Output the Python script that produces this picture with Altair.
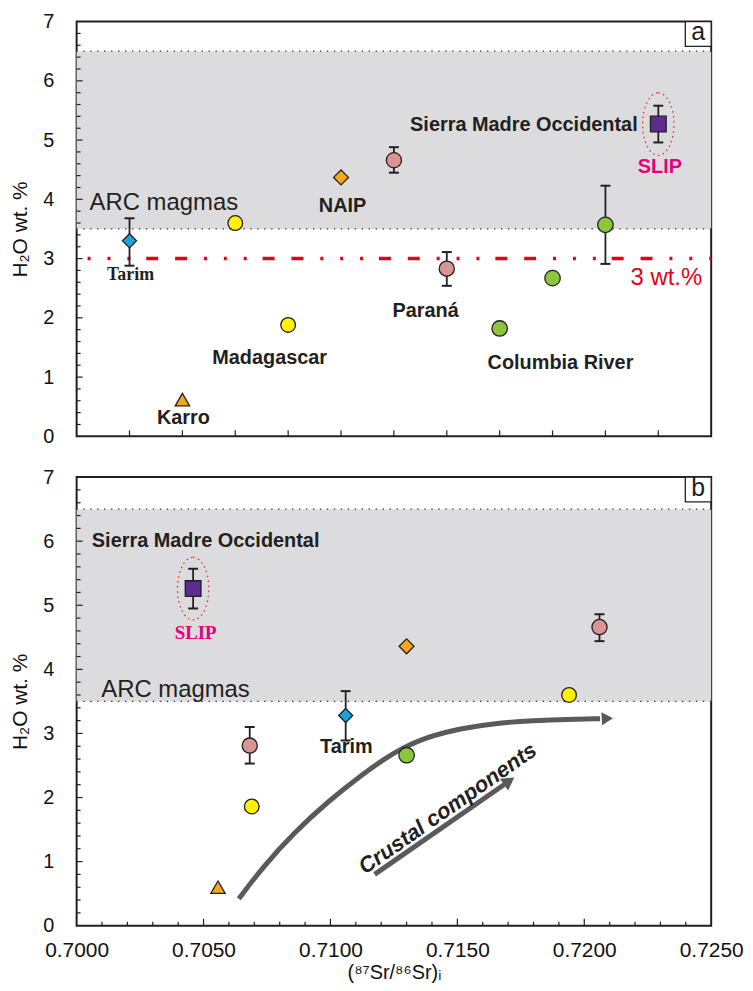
import altair as alt
import pandas as pd

SANS = "Liberation Sans"
SERIF = "Liberation Serif"
INK = "#231f20"

# ---------------- categories & styles ----------------
groups = ["Tarim", "Karoo", "Madagascar", "NAIP", "Parana", "Columbia River", "SMO"]
group_shapes = ["diamond", "triangle-up", "circle", "diamond", "circle", "circle", "square"]
group_fills = ["#1ba3dd", "#f6a81c", "#fff200", "#f6a81c", "#d99494", "#8cc63f", "#5c2d8e"]
group_sizes = [200, 250, 205, 200, 205, 205, 285]

# ---------------- panel a (ordered by province) ----------------
a_group = ["Tarim", "Karoo", "Madagascar", "Madagascar", "NAIP", "Parana", "Parana",
           "Columbia River", "Columbia River", "Columbia River", "SMO"]
a_pos = [1, 2, 3, 4, 5, 6, 7, 8, 9, 10, 11]
a_h2o = [3.30, 0.62, 3.60, 1.88, 4.37, 4.66, 2.83, 1.82, 2.67, 3.57, 5.27]
a_err_pos = [1, 6, 7, 10, 11]
a_err_lo = [2.88, 4.45, 2.54, 2.91, 4.96]
a_err_hi = [3.68, 4.88, 3.11, 4.23, 5.58]

# ---------------- panel b (87Sr/86Sr)i ----------------
b_group = ["SMO", "Parana", "Madagascar", "Karoo", "Tarim", "NAIP", "Columbia River",
           "Madagascar", "Parana"]
b_sr = [0.70459, 0.70682, 0.70690, 0.70557, 0.71060, 0.71300, 0.71300, 0.71940, 0.72060]
b_h2o = [5.26, 2.81, 1.86, 0.60, 3.28, 4.36, 2.66, 3.60, 4.66]
b_err_sr = [0.70459, 0.70682, 0.71060, 0.72060]
b_err_lo = [4.95, 2.53, 2.89, 4.44]
b_err_hi = [5.57, 3.10, 3.66, 4.86]

arc_band = [3.5, 6.5]
threshold = [3.0]

# crustal-contamination trend
curve_sr = [0.70639, 0.70730, 0.70861, 0.70991, 0.71122, 0.71253, 0.71383, 0.71514,
            0.71670, 0.71801, 0.71932, 0.72062]
curve_h2o = [0.42, 0.90, 1.47, 1.94, 2.35, 2.72, 2.95, 3.08, 3.17, 3.20, 3.22, 3.23]
curve_head = [0.72091, 3.234]
arrow_sr = [0.71174, 0.71685]
arrow_h2o = [0.80, 2.204]
arrow_head = [0.71704, 2.257]

# tick labels / tick positions
y_major = [0, 1, 2, 3, 4, 5, 6, 7]
y_inner_major = [1, 2, 3, 4, 5, 6]
y_minor = [round(i * 0.2, 1) for i in range(1, 35) if i % 5]
a_xticks = [1, 2, 3, 4, 5, 6, 7, 8, 9, 10, 11]
b_major = [0.7000, 0.7050, 0.7100, 0.7150, 0.7200, 0.7250]
b_inner_major = [0.7050, 0.7100, 0.7150, 0.7200]
b_minor = [round(0.700 + i * 0.001, 3) for i in range(1, 25) if i % 5]

# annotations: (text, x, y)
a_bold_center = [("NAIP", 5.03, 3.88), ("Madagascar", 3.65, 1.32), ("Karro", 2.02, 0.31),
                 ("Paraná", 6.6, 2.11), ("Columbia River", 9.15, 1.23)]
a_bold_right = [("Sierra Madre Occidental", 10.61, 5.26)]
a_serif = [("Tarim", 1.02, 2.72)]
a_slip = [("SLIP", 11.03, 4.55)]
a_arc = [("ARC magmas", 0.245, 3.93)]
a_red = [("3 wt.%", 11.83, 2.67)]
b_bold_left = [("Sierra Madre Occidental", 0.7006, 6.0)]
b_bold_center = [("Tarim", 0.71063, 2.79)]
b_slip = [("SLIP", 0.70469, 4.57)]
b_arc = [("ARC magmas", 0.70097, 3.67)]
b_crust = [("Crustal components", 0.71462, 1.83)]

W, HA, HB = 638, 417, 451
ELLIPSE = "M0,-1 A0.5,1 0 1,1 0,1 A0.5,1 0 1,1 0,-1 Z"

xa_scale = alt.Scale(domain=[0, 12], nice=False, zero=False)
xb_scale = alt.Scale(domain=[0.700, 0.725], nice=False, zero=False)
y_scale = alt.Scale(domain=[0, 7], nice=False, zero=False)


def yenc():
    return alt.Y("y:Q", scale=y_scale, axis=alt.Axis(
        title="H₂O wt. %", values=y_major, ticks=False, tickSize=0, domain=False,
        grid=False, labelFont=SANS, labelFontSize=20, labelColor="#111", labelPadding=23,
        labelFlush=False, titleFont=SANS, titleFontSize=21, titleFontWeight="normal",
        titleColor="#111", titlePadding=12))


def xenc_a():
    return alt.X("x:Q", scale=xa_scale, axis=None)


def xenc_b():
    return alt.X("x:Q", scale=xb_scale, axis=alt.Axis(
        title="(⁸⁷Sr/⁸⁶Sr)ᵢ", values=b_major, format=".4f", ticks=False, tickSize=0,
        domain=False, grid=False, labelFont=SANS, labelFontSize=21, labelColor="#111",
        labelPadding=14, labelFlush=False, titleFont=SANS, titleFontSize=20,
        titleFontWeight="normal", titleColor="#111", titlePadding=2))


def txt(rows):
    return pd.DataFrame({"t": [r[0] for r in rows], "x": [r[1] for r in rows],
                         "y": [r[2] for r in rows]})


def base_layers():
    band = alt.Chart(pd.DataFrame({"y": [arc_band[0]], "y2": [arc_band[1]]})).mark_rect(
        color="#dcdcde").encode(y=yenc(), y2="y2:Q", x=alt.value(0), x2=alt.value(W))
    band_lines = alt.Chart(pd.DataFrame({"y": arc_band})).mark_rule(
        color="#333", strokeWidth=1.3, strokeDash=[1.4, 5.6]).encode(y=yenc())
    return [band, band_lines]


def point_layers(xenc, df_pts, df_err):
    err = alt.Chart(df_err).mark_rule(color=INK, strokeWidth=1.8).encode(
        x=xenc(), y=yenc(), y2="y2:Q")
    caps_df = pd.concat([df_err[["x", "y"]],
                         df_err[["x", "y2"]].rename(columns={"y2": "y"})])
    caps = alt.Chart(caps_df).mark_tick(orient="horizontal", size=10, thickness=2,
                                        color=INK, opacity=1).encode(x=xenc(), y=yenc())
    pts = alt.Chart(df_pts).mark_point(filled=True, opacity=1, stroke=INK,
                                       strokeWidth=1.3).encode(
        x=xenc(), y=yenc(),
        shape=alt.Shape("g:N", scale=alt.Scale(domain=groups, range=group_shapes), legend=None),
        fill=alt.Fill("g:N", scale=alt.Scale(domain=groups, range=group_fills), legend=None),
        size=alt.Size("g:N", scale=alt.Scale(domain=groups, range=group_sizes), legend=None))
    slip = df_pts[df_pts["g"] == "SMO"]
    ell = alt.Chart(slip).mark_point(shape=ELLIPSE, size=3969, filled=False, opacity=1,
                                     stroke="#e5312d", strokeWidth=1.3,
                                     strokeDash=[1.6, 3.4]).encode(x=xenc(), y=yenc())
    return [err, caps, pts, ell]


def tick_layers(xenc, H, x_minor, x_major, x_major_len):
    layers = [
        alt.Chart(pd.DataFrame({"y": y_minor})).mark_rule(color=INK, strokeWidth=1.2).encode(
            y=yenc(), x=alt.value(0), x2=alt.value(4)),
        alt.Chart(pd.DataFrame({"y": y_inner_major})).mark_rule(color=INK, strokeWidth=1.2).encode(
            y=yenc(), x=alt.value(0), x2=alt.value(6)),
        alt.Chart(pd.DataFrame({"x": x_major})).mark_rule(color=INK, strokeWidth=1.2).encode(
            x=xenc(), y=alt.value(H), y2=alt.value(H - x_major_len)),
    ]
    if x_minor:
        layers.append(alt.Chart(pd.DataFrame({"x": x_minor})).mark_rule(
            color=INK, strokeWidth=1.2).encode(x=xenc(), y=alt.value(H), y2=alt.value(H - 4)))
    return layers


def panel_tag(letter):
    d = pd.DataFrame({"t": [letter]})
    box = alt.Chart(d).mark_rect(fill="white", stroke=INK, strokeWidth=1.3).encode(
        x=alt.value(W - 26), x2=alt.value(W), y=alt.value(0), y2=alt.value(25))
    lab = alt.Chart(d).mark_text(font=SANS, fontSize=25, color=INK, align="center",
                                 baseline="middle").encode(
        x=alt.value(W - 13), y=alt.value(11), text="t:N")
    return [box, lab]


def text_layer(rows, xenc, **kw):
    return alt.Chart(txt(rows)).mark_text(baseline="middle", **kw).encode(
        x=xenc(), y=yenc(), text="t:N")


BOLD = dict(font=SANS, fontWeight="bold", fontSize=20, color=INK)

# ---------------- panel a ----------------
df_a = pd.DataFrame({"x": a_pos, "y": a_h2o, "g": a_group})
df_a_err = pd.DataFrame({"x": a_err_pos, "y": a_err_lo, "y2": a_err_hi})
red = alt.Chart(pd.DataFrame({"y": threshold})).mark_rule(
    color="#e3001b", strokeWidth=3.5, strokeCap="butt",
    strokeDash=[12, 17, 12, 16, 3, 17, 3, 17, 3, 17], strokeDashOffset=58).encode(y=yenc())

layers_a = base_layers() + [red] + point_layers(xenc_a, df_a, df_a_err) + [
    text_layer(a_bold_center, xenc_a, align="center", **BOLD),
    text_layer(a_bold_right, xenc_a, align="right", **BOLD),
    text_layer(a_serif, xenc_a, font=SERIF, fontWeight="bold", fontSize=18,
               color=INK, align="center"),
    text_layer(a_slip, xenc_a, font=SANS, fontWeight="bold", fontSize=20,
               color="#e4007f", align="center"),
    text_layer(a_arc, xenc_a, font=SANS, fontSize=24, color=INK, align="left"),
    text_layer(a_red, xenc_a, font=SANS, fontSize=24, color="#e3001b", align="right"),
] + tick_layers(xenc_a, HA, [], a_xticks, 6) + panel_tag("a")

panel_a = alt.layer(*layers_a).properties(width=W, height=HA)

# ---------------- panel b ----------------
df_b = pd.DataFrame({"x": b_sr, "y": b_h2o, "g": b_group})
df_b_err = pd.DataFrame({"x": b_err_sr, "y": b_err_lo, "y2": b_err_hi})
GREY = "#5a5a5a"
curve = alt.Chart(pd.DataFrame({"x": curve_sr, "y": curve_h2o})).mark_line(
    color=GREY, strokeWidth=5, interpolate="basis", strokeCap="butt").encode(
    x=xenc_b(), y=yenc())
curve_tip = alt.Chart(pd.DataFrame({"x": [curve_head[0]], "y": [curve_head[1]]})).mark_point(
    shape="triangle-right", filled=True, opacity=1, color=GREY, size=170, angle=357).encode(
    x=xenc_b(), y=yenc())
arrow = alt.Chart(pd.DataFrame({"x": arrow_sr, "y": arrow_h2o})).mark_line(
    color=GREY, strokeWidth=5, strokeCap="butt").encode(x=xenc_b(), y=yenc())
arrow_tip = alt.Chart(pd.DataFrame({"x": [arrow_head[0]], "y": [arrow_head[1]]})).mark_point(
    shape="triangle-up", filled=True, opacity=1, color=GREY, size=210, angle=55).encode(
    x=xenc_b(), y=yenc())

layers_b = base_layers() + [curve, curve_tip, arrow, arrow_tip] + \
    point_layers(xenc_b, df_b, df_b_err) + [
    text_layer(b_bold_left, xenc_b, align="left", **BOLD),
    text_layer(b_bold_center, xenc_b, align="center", **BOLD),
    text_layer(b_slip, xenc_b, font=SERIF, fontWeight="bold", fontSize=19,
               color="#e4007f", align="center"),
    text_layer(b_arc, xenc_b, font=SANS, fontSize=24, color=INK, align="left"),
    text_layer(b_crust, xenc_b, font=SANS, fontWeight="bold", fontStyle="italic",
               fontSize=22, color=INK, align="center", angle=325),
] + tick_layers(xenc_b, HB, b_minor, b_inner_major, 7) + panel_tag("b")

panel_b = alt.layer(*layers_b).properties(width=W, height=HB)

chart = alt.vconcat(panel_a, panel_b, spacing=41, bounds="flush").properties(
    padding={"left": 0, "top": 0, "right": 0, "bottom": 0}
).configure_view(stroke=INK, strokeWidth=2)

chart.save("out.html", embed_options={"renderer": "svg", "actions": False})
